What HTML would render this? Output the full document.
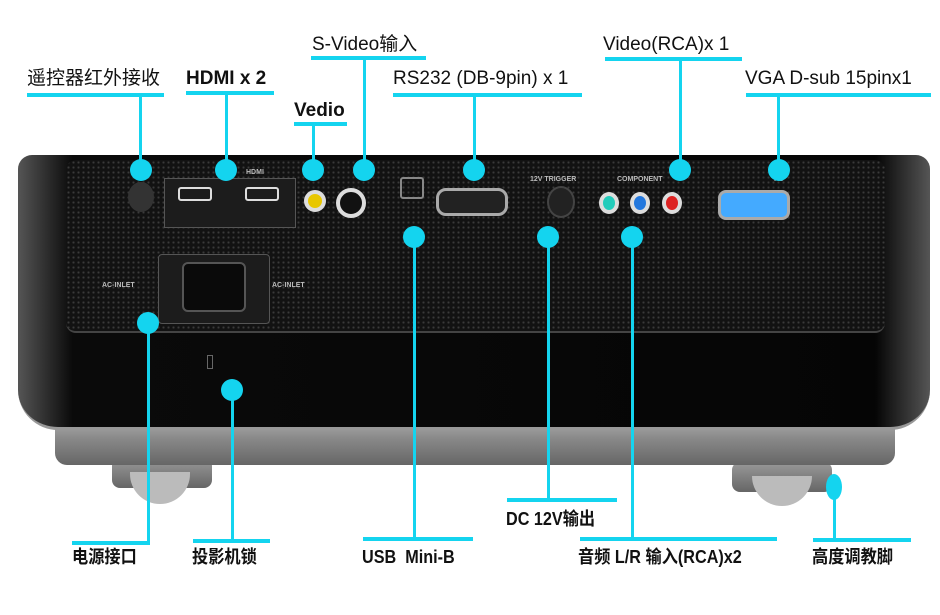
<!DOCTYPE html>
<html><head><meta charset="utf-8"><style>
body{margin:0;width:940px;height:615px;background:#fff;position:relative;overflow:hidden;font-family:"Liberation Sans","Noto Sans CJK SC",sans-serif}
div{position:absolute;box-sizing:border-box}
.h{height:4px;background:#14d4ef}
.v{width:3px;background:#14d4ef}
.d{width:22px;height:22px;border-radius:50%;background:#14d4ef;margin:-11px 0 0 -11px}
.t{font-size:19px;color:#111;white-space:nowrap;line-height:22px}
.b{font-size:18px;color:#111;white-space:nowrap;line-height:22px;transform:scaleX(.9);transform-origin:left;font-weight:bold}
.s{font-size:7px;color:#bbb;font-weight:bold}
</style></head><body>
<!-- feet -->
<div style="left:112px;top:458px;width:100px;height:30px;border-radius:8px;background:linear-gradient(#9a9a9a,#666)"></div>
<div style="left:130px;top:472px;width:60px;height:32px;border-radius:0 0 30px 30px;background:#bbb"></div>
<div style="left:732px;top:462px;width:100px;height:30px;border-radius:8px;background:linear-gradient(#9a9a9a,#666)"></div>
<div style="left:752px;top:476px;width:60px;height:30px;border-radius:0 0 30px 30px;background:#bbb"></div>
<!-- silver band -->
<div style="left:55px;top:400px;width:840px;height:65px;border-radius:0 0 12px 12px;background:linear-gradient(#ccc,#888 60%,#666)"></div>
<!-- body -->
<div style="left:18px;top:155px;width:912px;height:275px;border-radius:14px 14px 40px 40px;background:linear-gradient(90deg,#555,#0a0a0a 6%,#050505 94%,#555);border-bottom:3px solid #999"></div>
<div style="left:66px;top:160px;width:819px;height:173px;border-radius:10px;background:#121212;background-image:radial-gradient(#3a3a3a 1px,transparent 1.2px);background-size:5px 5px;border-bottom:2px solid #444"></div>
<!-- ports -->
<div style="left:128px;top:182px;width:26px;height:30px;border-radius:50%;background:#333"></div>
<div style="left:164px;top:178px;width:132px;height:50px;background:#1c1c1c;border:1px solid #555"></div>
<div style="left:178px;top:187px;width:34px;height:14px;border:2px solid #ddd;border-radius:3px"></div>
<div style="left:245px;top:187px;width:34px;height:14px;border:2px solid #ddd;border-radius:3px"></div>
<div style="left:304px;top:190px;width:22px;height:22px;border-radius:50%;background:#e8c700;border:4px solid #ddd"></div>
<div style="left:336px;top:188px;width:30px;height:30px;border-radius:50%;background:#111;border:4px solid #ddd"></div>
<div style="left:400px;top:177px;width:24px;height:22px;border:2px solid #888;border-radius:3px"></div>
<div style="left:436px;top:188px;width:72px;height:28px;border:3px solid #aaa;border-radius:10px;background:#222"></div>
<div style="left:547px;top:186px;width:28px;height:32px;border-radius:50%;background:#222;border:2px solid #444"></div>
<div style="left:599px;top:192px;width:20px;height:22px;border-radius:50%;background:#2cb;border:4px solid #ddd"></div>
<div style="left:630px;top:192px;width:20px;height:22px;border-radius:50%;background:#27d;border:4px solid #ddd"></div>
<div style="left:662px;top:192px;width:20px;height:22px;border-radius:50%;background:#d22;border:4px solid #ddd"></div>
<div style="left:718px;top:190px;width:72px;height:30px;border:3px solid #aaa;border-radius:8px;background:#4af"></div>
<div style="left:158px;top:254px;width:112px;height:70px;background:#1c1c1c;border:1px solid #555;border-radius:4px"></div>
<div style="left:182px;top:262px;width:64px;height:50px;background:#0a0a0a;border:2px solid #555;border-radius:6px"></div>
<div class="s" style="left:102px;top:282px">AC-INLET</div><div class="s" style="left:272px;top:282px">AC-INLET</div>
<div class="s" style="left:246px;top:169px">HDMI</div><div class="s" style="left:530px;top:176px">12V TRIGGER</div>
<div class="s" style="left:617px;top:176px">COMPONENT</div><div class="s" style="left:774px;top:176px">PC</div>
<div style="left:207px;top:355px;width:6px;height:14px;border:1px solid #666"></div>
<!-- callouts top -->
<div class="t" style="left:27px;top:68px">遥控器红外接收</div><div class="h" style="left:27px;top:93px;width:137px"></div><div class="v" style="left:139px;top:95px;height:75px"></div><div class="d" style="left:141px;top:170px"></div>
<div class="t" style="left:186px;top:68px;font-weight:bold">HDMI x 2</div><div class="h" style="left:186px;top:91px;width:88px"></div><div class="v" style="left:225px;top:93px;height:77px"></div><div class="d" style="left:226px;top:170px"></div>
<div class="t" style="left:294px;top:100px;font-weight:bold">Vedio</div><div class="h" style="left:294px;top:122px;width:53px"></div><div class="v" style="left:312px;top:124px;height:46px"></div><div class="d" style="left:313px;top:170px"></div>
<div class="t" style="left:312px;top:34px">S-Video输入</div><div class="h" style="left:311px;top:56px;width:115px"></div><div class="v" style="left:363px;top:58px;height:112px"></div><div class="d" style="left:364px;top:170px"></div>
<div class="t" style="left:393px;top:68px">RS232 (DB-9pin) x 1</div><div class="h" style="left:393px;top:93px;width:189px"></div><div class="v" style="left:473px;top:95px;height:75px"></div><div class="d" style="left:474px;top:170px"></div>
<div class="t" style="left:603px;top:34px">Video(RCA)x 1</div><div class="h" style="left:605px;top:57px;width:137px"></div><div class="v" style="left:679px;top:59px;height:111px"></div><div class="d" style="left:680px;top:170px"></div>
<div class="t" style="left:745px;top:68px">VGA D-sub 15pinx1</div><div class="h" style="left:746px;top:93px;width:185px"></div><div class="v" style="left:777px;top:95px;height:75px"></div><div class="d" style="left:779px;top:170px"></div>
<!-- callouts bottom -->
<div class="d" style="left:148px;top:323px"></div><div class="v" style="left:147px;top:323px;height:220px"></div><div class="h" style="left:72px;top:541px;width:78px"></div><div class="b" style="left:72px;top:546px">电源接口</div>
<div class="d" style="left:232px;top:390px"></div><div class="v" style="left:231px;top:390px;height:150px"></div><div class="h" style="left:193px;top:539px;width:77px"></div><div class="b" style="left:192px;top:546px">投影机锁</div>
<div class="d" style="left:414px;top:237px"></div><div class="v" style="left:413px;top:237px;height:302px"></div><div class="h" style="left:363px;top:537px;width:110px"></div><div class="b" style="left:362px;top:546px">USB&nbsp; Mini-B</div>
<div class="d" style="left:548px;top:237px"></div><div class="v" style="left:547px;top:237px;height:263px"></div><div class="h" style="left:507px;top:498px;width:110px"></div><div class="b" style="left:506px;top:508px">DC 12V输出</div>
<div class="d" style="left:632px;top:237px"></div><div class="v" style="left:631px;top:237px;height:302px"></div><div class="h" style="left:580px;top:537px;width:197px"></div><div class="b" style="left:578px;top:546px">音频 L/R 输入(RCA)x2</div>
<div style="left:826px;top:474px;width:16px;height:26px;border-radius:50%;background:#14d4ef"></div><div class="v" style="left:833px;top:490px;height:50px"></div><div class="h" style="left:813px;top:538px;width:98px"></div><div class="b" style="left:812px;top:546px">高度调教脚</div>
</body></html>
